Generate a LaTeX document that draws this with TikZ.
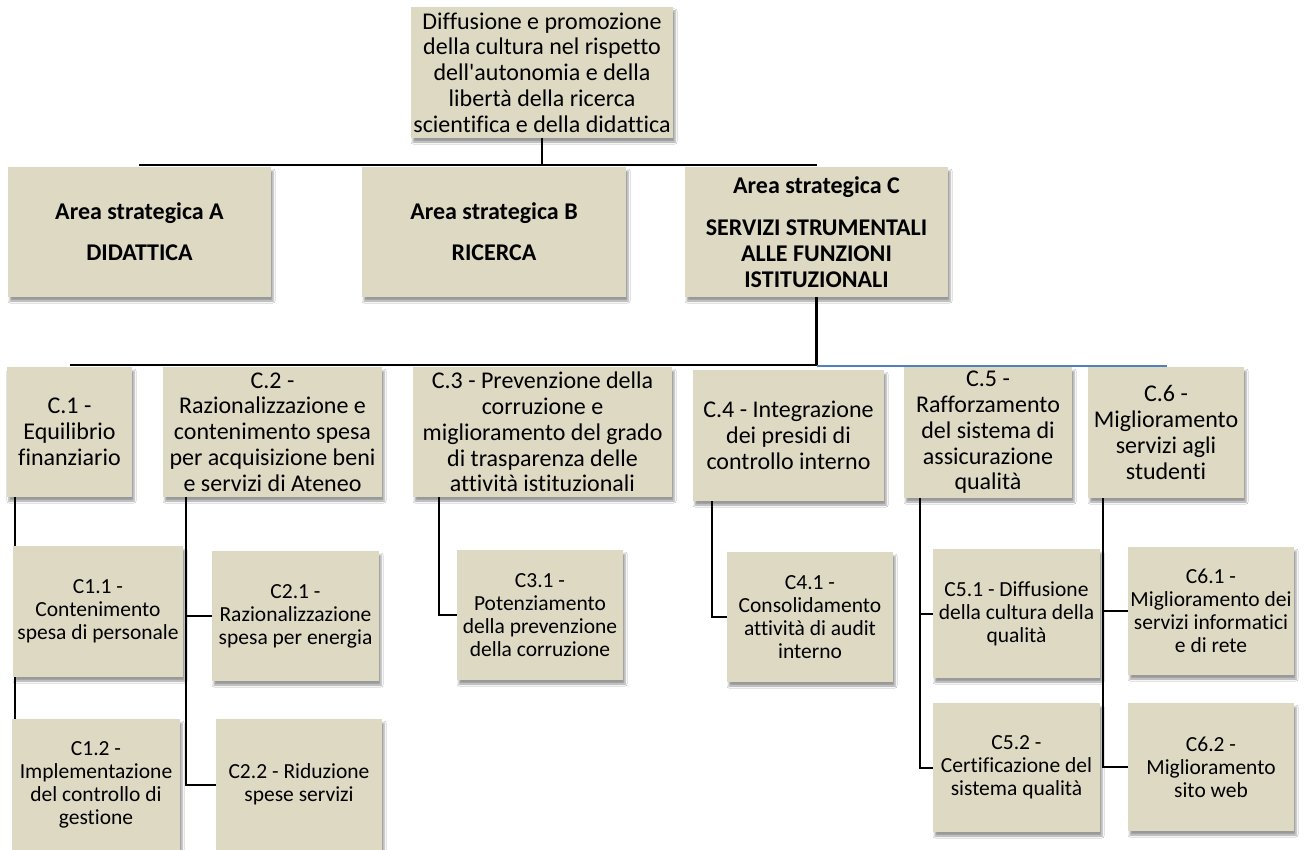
\documentclass[tikz,border=0pt]{standalone}
\usepackage{fontspec}
\newfontfamily\carl{Carlito}[Ligatures=CommonOff]
\usetikzlibrary{shadows.blur,backgrounds}
\definecolor{boxfill}{RGB}{221,217,195}
\definecolor{lineblue}{RGB}{79,129,189}
\tikzset{
  box/.style={fill=boxfill, inner sep=0pt, align=center,
    blur shadow={shadow xshift=2pt, shadow yshift=-4pt, shadow blur radius=2pt, shadow opacity=40}},
  big/.style={box, font=\carl\fontsize{24}{25.8}\selectfont},
  area/.style={box, font=\carl\bfseries\fontsize{24}{26}\selectfont},
  small/.style={box, font=\carl\fontsize{21.5}{23}\selectfont},
  conn/.style={line width=2pt, black},
  sz/.style 2 args={minimum width=#1pt, minimum height=#2pt},
}
\begin{document}
\begin{tikzpicture}[x=1pt,y=-1pt]
\useasboundingbox (0,0) rectangle (1306,850);
% top
\node[big, sz={262}{131}] (top) at (542,72.5) {Diffusione e promozione\\della cultura nel rispetto\\dell'autonomia e della\\libertà della ricerca\\scientifica e della didattica};
% areas
\node[area, sz={263}{130}] (A) at (139.5,232) {Area strategica A\\[15pt]DIDATTICA};
\node[area, sz={264}{130}] (B) at (494,232) {Area strategica B\\[15pt]RICERCA};
\node[area, sz={263}{130}] (C) at (816.5,232) {Area strategica C\\[16pt]SERVIZI STRUMENTALI\\ALLE FUNZIONI\\ISTITUZIONALI};
% C row
\node[big, sz={125}{130}] (c1) at (69.5,432) {C.1 -\\Equilibrio\\finanziario};
\node[big, sz={219}{130}] (c2) at (272.5,432) {C.2 -\\Razionalizzazione e\\contenimento spesa\\per acquisizione beni\\e servizi di Ateneo};
\node[big, sz={259}{130}] (c3) at (542.5,432) {C.3 - Prevenzione della\\corruzione e\\miglioramento del grado\\di trasparenza delle\\attività istituzionali};
\node[big, sz={191}{131}] (c4) at (788.5,435.5) {C.4 - Integrazione\\dei presidi di\\controllo interno};
\node[big, sz={168}{131}] (c5) at (988,432.5) {C.5 -\\Rafforzamento\\del sistema di\\assicurazione\\qualità};
\node[big, sz={156}{131}] (c6) at (1166,432.5) {C.6 -\\Miglioramento\\servizi agli\\studenti};
% sub boxes
\node[small, sz={170}{131}] (c11) at (98,611.5) {C1.1 -\\Contenimento\\spesa di personale};
\node[small, sz={168}{131}] (c12) at (96,784.5) {C1.2 -\\Implementazione\\del controllo di\\gestione};
\node[small, sz={167}{130}] (c21) at (295.5,616) {C2.1 -\\Razionalizzazione\\spesa per energia};
\node[small, sz={166}{131}] (c22) at (299,784.5) {C2.2 - Riduzione\\spese servizi};
\node[small, sz={166}{130}] (c31) at (540,615) {C3.1 -\\Potenziamento\\della prevenzione\\della corruzione};
\node[small, sz={166}{130}] (c41) at (810,617) {C4.1 -\\Consolidamento\\attività di audit\\interno};
\node[small, sz={167}{129}] (c51) at (1016.5,613.5) {C5.1 - Diffusione\\della cultura della\\qualità};
\node[small, sz={167}{129}] (c52) at (1016.5,767.5) {C5.2 -\\Certificazione del\\sistema qualità};
\node[small, sz={166}{128}] (c61) at (1211,611) {C6.1 -\\Miglioramento dei\\servizi informatici\\e di rete};
\node[small, sz={166}{128}] (c62) at (1211,767) {C6.2 -\\Miglioramento\\sito web};
% connectors
\coordinate (hl) at (139,165);
\coordinate (hr) at (817,165);
\coordinate (ml) at (70,365);
\coordinate (mr) at (1167,366);
\begin{scope}[on background layer]
\fill[white] (0,0) rectangle (1306,850);
\draw[conn] (top.south) -- (top.south |- hl);
\draw[conn, line width=2.5pt] (hl) -- (hr);
\draw[conn, line width=2.5pt] (C.south) -- (C.south |- ml);
\draw[conn, line width=2.5pt] (ml) -- (C.south |- ml);
\draw[lineblue, line width=2pt] (C.south |- mr) -- (mr);
\draw[conn] ([xshift=8pt]c1.south west) -- ([xshift=8pt]c1.south west |- c12.north);
\draw[conn] ([xshift=23pt]c2.south west) |- (c22.west);
\draw[conn] ([xshift=23pt]c2.south west |- c21.west) -- (c21.west);
\draw[conn] ([xshift=26pt]c3.south west) |- (c31.west);
\draw[conn] ([xshift=19pt]c4.south west) |- (c41.west);
\draw[conn] ([xshift=16pt]c5.south west) |- (c52.west);
\draw[conn] ([xshift=16pt]c5.south west |- c51.west) -- (c51.west);
\draw[conn] ([xshift=15pt]c6.south west) |- (c62.west);
\draw[conn] ([xshift=15pt]c6.south west |- c61.west) -- (c61.west);
\end{scope}
\end{tikzpicture}
\end{document}
